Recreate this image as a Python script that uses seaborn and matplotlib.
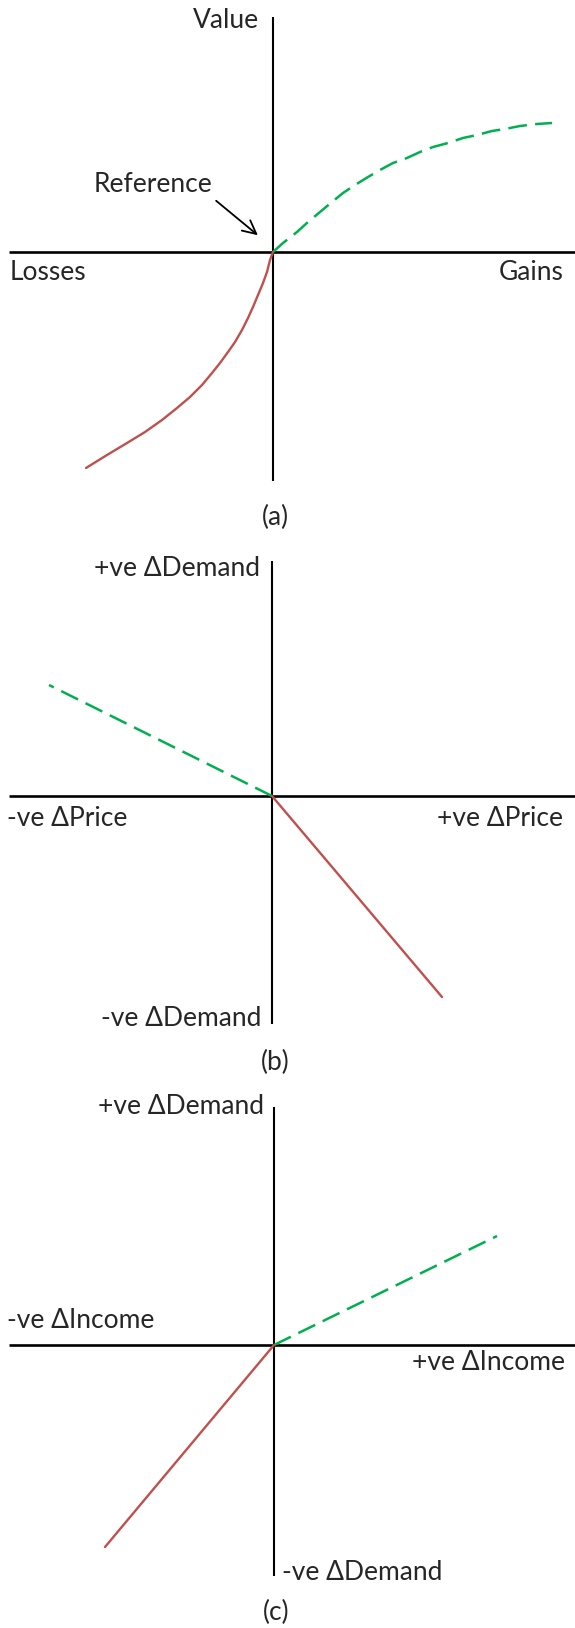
import matplotlib
matplotlib.use("Agg")
import matplotlib.pyplot as plt
import seaborn as sns

sns.set_theme(style="white")
plt.rcParams["font.family"] = ["Lato", "DejaVu Sans"]
plt.rcParams["lines.scale_dashes"] = False

# Figure size in pixels (dpi 100)
W, H = 575, 1628

# (a) value function, points measured relative to the reference point
gain_x = [0, 10, 24, 35, 47, 59, 70, 82, 95, 107, 120, 134, 147, 160, 175,
          190, 204, 219, 232, 247, 264, 279]
gain_y = [0, 9, 20, 30, 40, 50, 59, 67, 75, 82, 89, 94, 100, 105, 109,
          114, 117, 121, 123, 126, 128, 129]
loss_x = [0, -3, -6, -10, -15, -20, -25, -31, -38, -45, -53, -61, -71, -83,
          -96, -111, -128, -146, -166, -187]
loss_y = [0, -8, -20, -31, -43, -55, -66, -78, -90, -100, -111, -121, -133,
          -145, -156, -168, -180, -191, -203, -216]

# (b) price change vs demand change
price_neg_x = [0, -223]
price_neg_y = [0, 111]
price_pos_x = [0, 170]
price_pos_y = [0, -201]

# (c) income change vs demand change
income_pos_x = [0, 223]
income_pos_y = [0, 109]
income_neg_x = [0, -169]
income_neg_y = [0, -202]

GREEN = "#00B050"
RED = "#C0504D"
DASH = (0, (13.5, 6.0))
FS = 19

# band top, band bottom, origin x, origin y, vertical axis top/bottom (pixels)
panels = [
    dict(top=0, bottom=540, ox=273, oy=252, vtop=17, vbot=481),
    dict(top=540, bottom=1080, ox=272, oy=796, vtop=561, vbot=1024),
    dict(top=1080, bottom=1628, ox=274, oy=1345, vtop=1107, vbot=1576),
]

fig = plt.figure(figsize=(W / 100, H / 100), dpi=100)
axes = []
for p in panels:
    ax = fig.add_axes([0, 1 - p["bottom"] / H, 1, (p["bottom"] - p["top"]) / H])
    ax.set_xlim(-p["ox"], W - p["ox"])
    ax.set_ylim(p["oy"] - p["bottom"], p["oy"] - p["top"])
    ax.axis("off")
    # the two axes of the sketch
    ax.plot([9 - p["ox"], W - p["ox"]], [0, 0], color="black", lw=1.9,
            solid_capstyle="butt")
    ax.plot([0, 0], [p["oy"] - p["vtop"], p["oy"] - p["vbot"]], color="black",
            lw=1.5, solid_capstyle="butt")
    axes.append(ax)

ax_a, ax_b, ax_c = axes

# (a)
sns.lineplot(x=gain_x, y=gain_y, ax=ax_a, color=GREEN, lw=1.8, linestyle=DASH,
             sort=False, estimator=None)
sns.lineplot(x=loss_x, y=loss_y, ax=ax_a, color=RED, lw=1.7, sort=False,
             estimator=None)
ax_a.text(-14, 232, "Value", ha="right", va="center", fontsize=FS)
ax_a.text(-263, -21, "Losses", ha="left", va="center", fontsize=FS)
ax_a.text(291, -21, "Gains", ha="right", va="center", fontsize=FS)
ax_a.text(-179, 68, "Reference", ha="left", va="center", fontsize=FS)
ax_a.annotate("", xy=(-13, 15), xytext=(-59, 53),
              arrowprops=dict(arrowstyle="->", color="black", lw=1.3,
                              mutation_scale=24))
ax_a.text(2, -265, "(a)", ha="center", va="center", fontsize=FS)

# (b)
sns.lineplot(x=price_neg_x, y=price_neg_y, ax=ax_b, color=GREEN, lw=1.8,
             linestyle=DASH, sort=False, estimator=None)
sns.lineplot(x=price_pos_x, y=price_pos_y, ax=ax_b, color=RED, lw=1.7,
             sort=False, estimator=None)
ax_b.text(-12, 228, "+ve ΔDemand", ha="right", va="center", fontsize=FS)
ax_b.text(-265, -22, "-ve ΔPrice", ha="left", va="center", fontsize=FS)
ax_b.text(291, -22, "+ve ΔPrice", ha="right", va="center", fontsize=FS)
ax_b.text(-11, -222, "-ve ΔDemand", ha="right", va="center", fontsize=FS)
ax_b.text(3, -266, "(b)", ha="center", va="center", fontsize=FS)

# (c)
sns.lineplot(x=income_pos_x, y=income_pos_y, ax=ax_c, color=GREEN, lw=1.8,
             linestyle=DASH, sort=False, estimator=None)
sns.lineplot(x=income_neg_x, y=income_neg_y, ax=ax_c, color=RED, lw=1.7,
             sort=False, estimator=None)
ax_c.text(-10, 238, "+ve ΔDemand", ha="right", va="center", fontsize=FS)
ax_c.text(-267, 25, "-ve ΔIncome", ha="left", va="center", fontsize=FS)
ax_c.text(291, -17, "+ve ΔIncome", ha="right", va="center", fontsize=FS)
ax_c.text(8, -227, "-ve ΔDemand", ha="left", va="center", fontsize=FS)
ax_c.text(2, -267, "(c)", ha="center", va="center", fontsize=FS)

fig.savefig("out.png", dpi=100, facecolor="white")
